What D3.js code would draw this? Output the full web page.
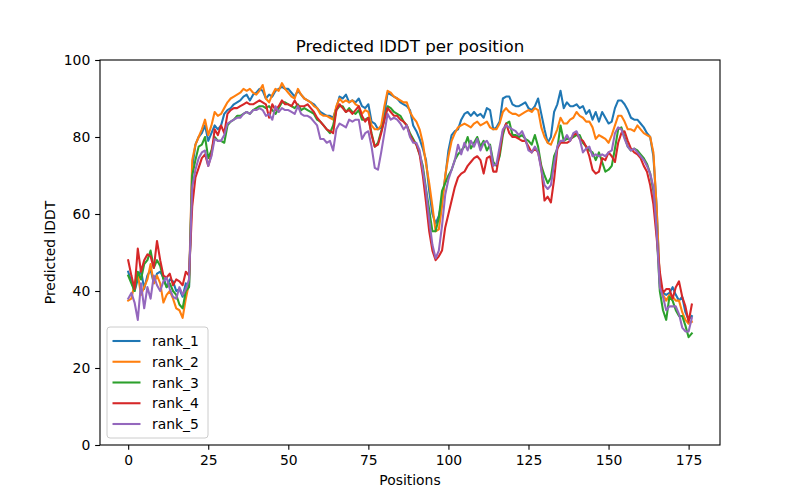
<!DOCTYPE html>
<html>
<head>
<meta charset="utf-8">
<script src="https://cdn.jsdelivr.net/npm/d3@7"></script>
<style>
  body { margin: 0; background: #fff; }
  text { font-family: "DejaVu Sans", sans-serif; fill: #000; }
</style>
</head>
<body>
<svg id="chart" width="800" height="500"></svg>
<script>
// predicted lDDT per position
const rank_1 = [
  45, 42.5, 40, 43, 45.5, 40.5, 44, 45.5, 42, 44.5,
  45, 43.5, 41, 43, 42.5, 40, 40.5, 38.5, 42, 41,
  72, 78, 80, 81, 83, 79, 81, 83, 82, 83,
  86, 87, 87.5, 88.5, 89, 89.5, 90.5, 91, 89.5, 91,
  91.5, 92.5, 92, 90, 91, 90.5, 92, 92.5, 93, 92.5,
  92.5, 91.5, 90.5, 92, 91, 90, 89.5, 89, 88.5, 87.5,
  86.5, 86, 85.5, 85.5, 85, 87.5, 90.5, 90, 91, 89,
  89.5, 89, 90, 88, 87.5, 88.5, 84, 83.5, 82, 82.5,
  86, 91.5, 91, 90.5, 90, 89, 88.5, 88, 87, 83,
  81.5, 79.5, 77, 74, 66, 60, 57.5, 59.5, 63.5, 69.5,
  76.5, 80.5, 81.5, 82, 84.5, 86, 86.5, 85.5, 86.5, 85.5,
  86, 85, 87.5, 87, 82, 82.5, 84, 90, 90.5, 90.5,
  88.5, 88, 88, 88.5, 89, 87.5, 87, 88, 90, 86,
  82, 78.5, 80, 86.5, 88.5, 92, 87.5, 89, 88, 88,
  88.5, 87.5, 88, 86, 87, 84.5, 86.5, 84, 86.5, 85,
  83.5, 84, 87.5, 89.5, 89.5, 88.5, 87, 85, 84.5, 84.5,
  83.5, 82.5, 81, 80, 75, 62, 42, 39.5, 39, 39.5,
  41, 39, 37.5, 38.5, 34.5, 32.5, 33.5
];
const rank_2 = [
  37.5, 38, 42, 44.5, 39, 41, 43, 47, 42, 44,
  42, 37, 39, 40, 38, 35.5, 35, 33, 38, 42,
  74, 78, 80, 82, 84.5, 80.5, 83, 86.5, 85.5, 86,
  87.5, 89, 90, 90.5, 91, 91.5, 92.5, 92, 92.5, 91.5,
  91, 92, 93.5, 90, 89, 91, 92.5, 92, 94, 92.5,
  91.5, 90.5, 90, 92.5, 91, 90, 89.5, 89, 88, 87.5,
  86, 85.5, 85.5, 85, 84.5, 88, 90, 89, 89.5, 89,
  89.5, 88.5, 88, 86, 87, 86.5, 83, 82, 82, 83,
  88, 92, 91.5, 90.5, 90, 89.5, 89, 89, 86.5, 85,
  84, 82, 78.5, 73, 68, 62, 55.5, 56, 62, 70,
  75, 79, 81, 82.5, 83, 83.5, 83, 82.5, 83.5, 84,
  83, 83.5, 84, 82.5, 82, 82, 83.5, 86.5, 87.5, 86.5,
  86, 86, 85.5, 86, 86.5, 87, 86.5, 87.5, 87, 82.5,
  80, 78.5, 78, 80, 82, 85, 83.5, 83.5, 84.5, 85,
  86.5, 85.5, 85, 84, 84, 82.5, 79.5, 80.5, 80, 79.5,
  78.5, 80.5, 83, 85.5, 85.5, 84, 82, 82, 81.5, 83,
  82, 81, 80.5, 80, 76, 62, 43, 39, 37.5, 39,
  38.5, 37.5, 37.5, 34.5, 32.5, 31.5, 32
];
const rank_3 = [
  44, 42, 40, 45, 43, 47, 48, 50.5, 46, 48,
  46.5, 43, 41, 42, 40, 39, 36.5, 35.5, 40, 41,
  70, 74, 77.5, 78, 80, 74.5, 76.5, 80, 79, 79,
  78.5, 83, 84, 84.5, 85.5, 85.5, 86, 86.5, 86, 87,
  87.5, 88, 88, 87.5, 88, 87, 86, 87.5, 89, 89,
  88.5, 88, 87.5, 88.5, 87, 87.5, 87, 86.5, 86, 84.5,
  84, 83, 82, 81, 83, 87, 88, 88, 86.5, 87.5,
  86.5, 86, 87, 84.5, 84.5, 85, 81, 77.5, 78.5, 81.5,
  84.5, 88, 87.5, 86.5, 86, 85.5, 84, 83, 81, 79.5,
  78, 75.5, 72.5, 66.5, 61, 55.5, 55.5, 59, 66, 68,
  70, 71.5, 74, 75.5, 76.5, 77.5, 80, 77, 78.5, 80,
  77.5, 79, 76.5, 78, 73.5, 72.5, 75, 80.5, 83.5, 84,
  80.5, 80.5, 80, 80.5, 79.5, 79, 78, 80.5, 77.5, 72.5,
  70, 68, 69.5, 75, 77, 83, 79, 79.5, 79.5, 80,
  80.5, 80.5, 78.5, 77.5, 76.5, 76, 74, 76, 73.5, 71,
  71.5, 72.5, 77, 82, 82.5, 80, 77.5, 76.5, 77, 76.5,
  75.5, 74.5, 73, 70.5, 66, 56, 40, 35, 32.5, 38.5,
  37.5, 35, 33.5, 33.5, 31, 28, 29
];
const rank_4 = [
  48, 44, 40.5, 51, 45, 48, 49.5, 49, 46, 53,
  48, 44, 43.5, 44.5, 41.5, 43, 42.5, 41.5, 45, 44,
  62, 69.5, 72, 74.5, 75.5, 72.5, 75.5, 82, 80.5, 83,
  81, 86, 87, 87.5, 87.5, 88, 88.5, 89, 88.5, 88.5,
  89, 89.5, 89, 88.5, 85, 88.5, 87, 88, 89.5, 88.5,
  88.5, 88, 89.5, 88, 88, 88, 88.5, 87.5, 86.5, 85,
  84, 83, 82, 81.5, 81, 87, 88.5, 87.5, 86.5, 87,
  86, 87, 88, 85.5, 84, 85, 80.5, 77.5, 78, 81,
  84.5, 87.5, 86.5, 85.5, 85.5, 84.5, 84, 83, 80.5, 79,
  78, 75.5, 70, 63, 55.5, 50.5, 48, 49, 50.5, 56.5,
  60, 63.5, 67, 69.5, 70.5, 71, 72.5, 73.5, 74.5, 75,
  74, 70.5, 74.5, 75, 71, 71, 76, 81.5, 83.5, 81,
  80, 80, 79.5, 79, 79, 77.5, 76, 77, 76, 72,
  63.5, 64.5, 63, 69, 77, 78.5, 78.5, 78.5, 79, 80.5,
  81, 79.5, 79, 77.5, 75, 71.5, 70.5, 71, 74.5, 74,
  76, 75, 73.5, 78.5, 81, 81.5, 79, 77, 76, 75.5,
  74.5, 72.5, 71, 67.5, 62.5, 54, 45, 39.5, 40.5, 40.5,
  38, 41, 42.5, 38.5, 36, 32, 36.5
];
const rank_5 = [
  38, 39.5, 37, 32.5, 42, 35.5, 41, 38, 44, 41.5,
  40, 42.5, 43.5, 40.5, 38.5, 38, 41, 39, 40.5, 43,
  67, 71.5, 74.5, 76, 76.5, 72.5, 75, 79.5, 79, 79,
  80.5, 83.5, 84, 84.5, 85, 85, 86, 86.5, 86, 87,
  87, 87.5, 87, 85.5, 86, 84.5, 88, 86.5, 87.5, 87,
  87, 86.5, 86, 88, 86, 85.5, 85.5, 85, 84, 83,
  79.5, 79.5, 78.5, 79, 76.5, 82, 83.5, 83, 82.5, 84.5,
  84, 84.5, 84.5, 79.5, 81, 81.5, 77.5, 72, 71.5, 76,
  81, 86, 84.5, 85, 84.5, 83.5, 82, 83, 80, 78.5,
  78.5, 76.5, 71.5, 66, 58.5, 52, 48.5, 50.5, 57, 65,
  69, 71.5, 74, 78, 75.5, 78.5, 76.5, 79, 77.5, 79.5,
  76.5, 78.5, 79, 77.5, 72.5, 73, 77.5, 82, 83, 82.5,
  82, 81.5, 80.5, 81.5, 79.5, 76.5, 76, 77.5, 76, 71.5,
  67.5, 66.5, 67.5, 73, 77.5, 79, 79, 80.5, 79, 81,
  81.5, 79.5, 76, 77, 77.5, 75, 75.5, 75, 75.5, 75,
  76, 76.5, 81, 82.5, 82, 79.5, 77.5, 76.5, 77, 76,
  75, 74, 72.5, 70.5, 67, 56, 41, 38.5, 35, 36,
  36, 36, 34, 30.5, 29.5, 29.5, 33
];

const seriesNames = ['rank_1', 'rank_2', 'rank_3', 'rank_4', 'rank_5'];
const seriesValues = [rank_1, rank_2, rank_3, rank_4, rank_5];
const colors = ['#1f77b4', '#ff7f0e', '#2ca02c', '#d62728', '#9467bd'];
const xTicks = [0, 25, 50, 75, 100, 125, 150, 175];
const yTicks = [0, 20, 40, 60, 80, 100];

const svg = d3.select('#chart');
const plotLeft = 100, plotRight = 720, plotTop = 60, plotBottom = 445;

// matplotlib-like auto margins (5%)
const n = rank_1.length - 1;
const x = d3.scaleLinear().domain([-0.05 * n, n * 1.05]).range([plotLeft, plotRight]);
const y = d3.scaleLinear().domain([0, 100]).range([plotBottom, plotTop]);

const tick = 4.86;

// x axis
const gx = svg.append('g')
  .attr('transform', `translate(0,${plotBottom})`)
  .call(d3.axisBottom(x).tickValues(xTicks).tickSize(tick).tickPadding(tick));
gx.select('.domain').remove();

// y axis
const gy = svg.append('g')
  .attr('transform', `translate(${plotLeft},0)`)
  .call(d3.axisLeft(y).tickValues(yTicks).tickSize(tick).tickPadding(tick));
gy.select('.domain').remove();

svg.selectAll('.tick line').attr('stroke', '#000').attr('stroke-width', 1.1);
svg.selectAll('.tick text')
  .attr('font-family', '"DejaVu Sans", sans-serif')
  .attr('font-size', '13.9px')
  .attr('fill', '#000');

// lines
const line = d3.line()
  .x((d, i) => x(i))
  .y(d => y(d));

svg.append('g')
  .selectAll('path')
  .data(seriesValues)
  .enter()
  .append('path')
  .attr('d', d => line(d))
  .attr('fill', 'none')
  .attr('stroke', (d, i) => colors[i])
  .attr('stroke-width', 2.08)
  .attr('stroke-linejoin', 'round')
  .attr('stroke-linecap', 'square');

// spines
svg.append('rect')
  .attr('x', plotLeft).attr('y', plotTop)
  .attr('width', plotRight - plotLeft).attr('height', plotBottom - plotTop)
  .attr('fill', 'none')
  .attr('stroke', '#000')
  .attr('stroke-width', 1.1);

// titles
svg.append('text')
  .attr('x', (plotLeft + plotRight) / 2).attr('y', 52)
  .attr('text-anchor', 'middle')
  .attr('font-size', '16.7px')
  .text('Predicted lDDT per position');

svg.append('text')
  .attr('x', (plotLeft + plotRight) / 2).attr('y', 485)
  .attr('text-anchor', 'middle')
  .attr('font-size', '13.9px')
  .text('Positions');

svg.append('text')
  .attr('transform', `translate(50,${(plotTop + plotBottom) / 2}) rotate(-90)`)
  .attr('text-anchor', 'middle')
  .attr('dominant-baseline', 'central')
  .attr('font-size', '13.9px')
  .text('Predicted lDDT');

// legend
const legend = svg.append('g');
legend.append('rect')
  .attr('x', 107).attr('y', 327)
  .attr('width', 101).attr('height', 111)
  .attr('rx', 3).attr('ry', 3)
  .attr('fill', '#fff').attr('fill-opacity', 0.8)
  .attr('stroke', '#cccccc').attr('stroke-width', 1);

const rowY = d3.scaleLinear().domain([0, 4]).range([341, 424]);
const items = legend.selectAll('g.item')
  .data(seriesNames)
  .enter()
  .append('g')
  .attr('class', 'item')
  .attr('transform', (d, i) => `translate(0,${rowY(i)})`);

items.append('line')
  .attr('x1', 112.5).attr('x2', 140.5)
  .attr('stroke', (d, i) => colors[i])
  .attr('stroke-width', 2.08);

items.append('text')
  .attr('x', 152)
  .attr('dominant-baseline', 'central')
  .attr('font-size', '13.9px')
  .text(d => d);
</script>
</body>
</html>
